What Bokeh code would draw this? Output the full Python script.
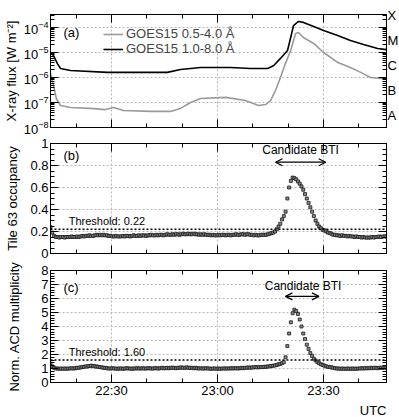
import math
from bokeh.plotting import figure
from bokeh.layouts import column
from bokeh.models import (Range1d, FixedTicker, LinearAxis, LogAxis, Span, Label,
                          Arrow, OpenHead, Title, CustomJSTickFormatter)
from bokeh.embed import file_html
from bokeh.resources import INLINE

FONT = "Liberation Sans"

# ---------------- data (time = minutes after 22:00 UTC) ----------------
time_ticks = [30, 60, 90]
time_tick_labels = ["22:30", "23:00", "23:30"]
time_minor = [20, 30, 40, 50, 60, 70, 80, 90, 100]

# GOES15 1.0-8.0 A (black)
goes_long_time = [12.7, 13.6, 14.7, 15.6, 18.4, 28.9, 38.2, 45.8, 49.5, 52.4,
                  55.2, 63.7, 69.3, 74.2, 75.9, 77.8, 79.8, 80.7, 81.5, 82.9,
                  84.3, 87.2, 90.0, 94.0, 97.6, 101.3, 105.3, 107.8]
goes_long_flux = [1.0e-5, 7.6e-6, 3.6e-6, 2.3e-6, 1.9e-6, 1.6e-6, 1.6e-6, 1.6e-6, 2.1e-6, 2.3e-6,
                  2.5e-6, 2.5e-6, 2.3e-6, 2.3e-6, 3.0e-6, 5.8e-6, 1.2e-5, 4.0e-5, 1.2e-4, 1.74e-4,
                  1.6e-4, 1.1e-4, 7.6e-5, 4.8e-5, 3.0e-5, 2.1e-5, 1.45e-5, 1.3e-5]

# GOES15 0.5-4.0 A (gray)
goes_short_time = [12.7, 13.6, 14.4, 15.6, 18.4, 24.1, 28.3, 30.6, 33.4, 41.0,
                   46.7, 49.5, 52.4, 55.2, 62.3, 67.9, 71.6, 73.6, 75.0, 76.4,
                   77.8, 79.2, 80.7, 81.5, 82.1, 82.9, 84.3, 87.2, 90.0, 94.0,
                   97.6, 100.5, 103.3, 106.1, 107.8]
goes_short_flux = [1.6e-6, 4.8e-7, 1.45e-7, 7.6e-8, 6.3e-8, 5.8e-8, 5.2e-8, 6.3e-8, 4.8e-8, 4.4e-8,
                   4.4e-8, 5.8e-8, 1.0e-7, 1.45e-7, 1.6e-7, 1.2e-7, 7.6e-8, 8.3e-8, 1.2e-7, 3.0e-7,
                   1.0e-6, 3.6e-6, 1.2e-5, 3.0e-5, 5.8e-5, 6.3e-5, 4.0e-5, 2.3e-5, 1.0e-5, 4.0e-6,
                   2.5e-6, 1.6e-6, 1.0e-6, 9.1e-7, 9.1e-7]

goes_classes = ["X", "M", "C", "B", "A"]

# sampled series, one sample every 30 s starting 22:12:45
sample_start, sample_step = 12.75, 0.5
tile63_occupancy = [
    0.24, 0.19, 0.16, 0.15, 0.15, 0.145, 0.15, 0.15, 0.145, 0.15,
    0.15, 0.15, 0.155, 0.15, 0.15, 0.155, 0.15, 0.155, 0.16, 0.155,
    0.16, 0.16, 0.165, 0.16, 0.16, 0.165, 0.17, 0.165, 0.17, 0.165,
    0.17, 0.165, 0.165, 0.16, 0.16, 0.155, 0.155, 0.16, 0.155, 0.155,
    0.155, 0.16, 0.155, 0.16, 0.16, 0.155, 0.16, 0.165, 0.16, 0.16,
    0.165, 0.16, 0.165, 0.165, 0.16, 0.165, 0.165, 0.17, 0.165, 0.165,
    0.17, 0.165, 0.17, 0.17, 0.165, 0.17, 0.175, 0.17, 0.17, 0.175,
    0.17, 0.175, 0.175, 0.17, 0.175, 0.18, 0.175, 0.175, 0.18, 0.175,
    0.175, 0.18, 0.175, 0.175, 0.17, 0.175, 0.17, 0.175, 0.17, 0.17,
    0.17, 0.165, 0.17, 0.165, 0.165, 0.17, 0.165, 0.17, 0.17, 0.165,
    0.17, 0.17, 0.165, 0.17, 0.17, 0.175, 0.17, 0.17, 0.175, 0.175,
    0.17, 0.175, 0.175, 0.17, 0.17, 0.165, 0.17, 0.165, 0.165, 0.17,
    0.17, 0.17, 0.17, 0.175, 0.18, 0.185, 0.19, 0.2, 0.22, 0.245,
    0.27, 0.31, 0.34, 0.38, 0.5, 0.6, 0.66, 0.69, 0.685, 0.675,
    0.655, 0.635, 0.61, 0.58, 0.54, 0.5, 0.46, 0.42, 0.38, 0.34,
    0.3, 0.27, 0.245, 0.23, 0.215, 0.21, 0.2, 0.19, 0.185, 0.18,
    0.17, 0.17, 0.165, 0.165, 0.16, 0.165, 0.16, 0.16, 0.155, 0.16,
    0.155, 0.155, 0.15, 0.155, 0.15, 0.15, 0.145, 0.15, 0.145, 0.145,
    0.145, 0.145, 0.15, 0.145, 0.15, 0.15, 0.155, 0.15, 0.155, 0.155,
    0.155]

acd_multiplicity = [
    1.35, 1.15, 1.05, 1.0, 1.0, 0.98, 1.0, 0.98, 1.0, 0.98,
    1.0, 1.0, 1.02, 1.0, 1.02, 1.05, 1.05, 1.08, 1.1, 1.12,
    1.15, 1.15, 1.18, 1.2, 1.18, 1.15, 1.15, 1.12, 1.1, 1.08,
    1.05, 1.05, 1.02, 1.0, 1.0, 1.02, 1.0, 1.0, 0.98, 1.0,
    1.0, 0.98, 1.0, 1.02, 1.0, 1.0, 0.98, 1.0, 1.0, 1.02,
    1.0, 1.0, 1.02, 1.0, 1.0, 1.02, 1.02, 1.0, 1.0, 1.02,
    1.02, 1.0, 1.02, 1.05, 1.02, 1.02, 1.05, 1.02, 1.05, 1.05,
    1.05, 1.02, 1.05, 1.05, 1.08, 1.05, 1.05, 1.08, 1.05, 1.05,
    1.05, 1.02, 1.05, 1.02, 1.0, 1.02, 1.0, 1.0, 1.02, 1.0,
    1.0, 0.98, 1.0, 1.0, 0.98, 1.0, 0.98, 1.0, 1.0, 1.0,
    1.0, 1.0, 1.02, 1.0, 1.02, 1.02, 1.0, 1.02, 1.05, 1.02,
    1.05, 1.05, 1.08, 1.05, 1.08, 1.08, 1.1, 1.08, 1.1, 1.1,
    1.1, 1.12, 1.12, 1.15, 1.15, 1.18, 1.2, 1.22, 1.25, 1.3,
    1.33, 1.38, 1.45, 1.8, 2.6, 3.5, 4.3, 4.95, 5.2, 5.1,
    4.9, 4.5, 4.0, 3.5, 3.1, 2.7, 2.4, 2.1, 1.9, 1.7,
    1.57, 1.45, 1.38, 1.3, 1.25, 1.2, 1.15, 1.12, 1.1, 1.08,
    1.05, 1.02, 1.0, 1.0, 0.98, 1.0, 0.98, 0.98, 1.0, 0.98,
    0.98, 1.0, 0.98, 0.98, 1.0, 1.0, 1.02, 1.0, 1.02, 1.02,
    1.02, 1.05, 1.02, 1.05, 1.05, 1.02, 1.05, 1.05, 1.05, 1.08,
    1.05]

sample_time = [sample_start + sample_step * i for i in range(len(tile63_occupancy))]
assert len(acd_multiplicity) == len(tile63_occupancy)

threshold_b = 0.22
threshold_c = 1.60
bti_b = (76.4, 90.6, 0.83)     # start, end, level
bti_c = (79.2, 88.7, 6.15)

# ---------------- layout constants ----------------
X_START, X_END = 12.75, 107.8
GRID_COLOR = "#b8b8b8"


def style_axis(ax, labels=True, major=7, minor=4, size="13px", standoff=3):
    ax.axis_line_color = "black"
    ax.axis_line_width = 1
    ax.major_tick_in = major
    ax.major_tick_out = 0
    ax.minor_tick_in = minor
    ax.minor_tick_out = 0
    ax.major_tick_line_color = "black"
    ax.minor_tick_line_color = "black"
    ax.major_label_text_font = FONT
    ax.major_label_text_color = "black"
    ax.major_label_text_font_size = size
    if labels:
        ax.major_label_standoff = standoff
    else:
        ax.formatter = CustomJSTickFormatter(code="return '';")
        ax.major_label_standoff = 0
    ax.axis_label_text_font = FONT
    ax.axis_label_text_font_style = "normal"
    ax.axis_label_text_font_size = "13px"
    ax.axis_label_text_color = "black"


def make_panel(frame_h, y_range, y_type, top, bottom, y_ticks, y_minor, grid_ticks,
               ylabel, label_standoff, show_x_labels, axis_cls):
    p = figure(frame_width=336, frame_height=frame_h,
               x_range=Range1d(X_START, X_END), y_range=y_range, y_axis_type=y_type,
               output_backend="svg", toolbar_location=None,
               min_border_left=50, min_border_right=13,
               min_border_top=top, min_border_bottom=bottom,
               background_fill_color="white", border_fill_color="white",
               outline_line_color="black", outline_line_width=1)
    # bottom axis
    xa = p.xaxis[0]
    xa.ticker = FixedTicker(ticks=time_ticks, minor_ticks=time_minor)
    style_axis(xa, labels=show_x_labels, major=8, minor=4, standoff=0)
    if show_x_labels:
        xa.major_label_overrides = {t: l for t, l in zip(time_ticks, time_tick_labels)}
    # left axis
    ya = p.yaxis[0]
    ya.ticker = FixedTicker(ticks=y_ticks, minor_ticks=y_minor)
    style_axis(ya, labels=True, major=8, minor=4, standoff=2)
    ya.axis_label = ylabel
    ya.axis_label_standoff = label_standoff
    # top axis (ticks only)
    top_ax = LinearAxis(ticker=FixedTicker(ticks=time_ticks, minor_ticks=time_minor))
    style_axis(top_ax, labels=False, major=8, minor=4)
    p.add_layout(top_ax, "above")
    # right axis (ticks only)
    right_ax = axis_cls(ticker=FixedTicker(ticks=y_ticks, minor_ticks=y_minor))
    style_axis(right_ax, labels=False, major=8, minor=4)
    p.add_layout(right_ax, "right")
    # grids
    p.xgrid.ticker = FixedTicker(ticks=time_ticks)
    p.ygrid.ticker = FixedTicker(ticks=grid_ticks)
    for g in (p.xgrid[0], p.ygrid[0]):
        g.grid_line_color = GRID_COLOR
        g.grid_line_dash = "2 2"
        g.grid_line_width = 1
    return p


# ---------------- panel (a) ----------------
decades = [10.0 ** e for e in range(-8, -3)]
a_top = 10 ** -3.48
a_minor = [k * 10.0 ** e for e in range(-8, -3) for k in range(1, 10) if k * 10.0 ** e <= a_top]
pa = make_panel(113, Range1d(1e-8, a_top), "log", 14, 9, decades, a_minor, decades,
                "X-ray flux [W m\u207b\u00b2]", 2, False, LogAxis)

pa.line(goes_short_time, goes_short_flux, line_color="#9a9a9a", line_width=1.6,
        legend_label="GOES15 0.5-4.0 \u00c5")
pa.line(goes_long_time, goes_long_flux, line_color="black", line_width=1.6,
        legend_label="GOES15 1.0-8.0 \u00c5")

class_positions = [10 ** (-3.5 - i) for i in range(len(goes_classes))]
letter_ax = LogAxis(ticker=FixedTicker(ticks=class_positions, minor_ticks=[]),
                    formatter=CustomJSTickFormatter(
                        args=dict(names=goes_classes),
                        code="const i = Math.round(-Math.log10(tick) - 3.5); return names[i] || '';"))
letter_ax.axis_line_alpha = 0
letter_ax.major_tick_in = 0
letter_ax.major_tick_out = 0
letter_ax.minor_tick_in = 0
letter_ax.minor_tick_out = 0
letter_ax.major_label_text_font = FONT
letter_ax.major_label_text_font_size = "13px"
letter_ax.major_label_text_color = "black"
letter_ax.major_label_standoff = 1
pa.add_layout(letter_ax, "right")

lg = pa.legend[0]
lg.location = (53, 71)
lg.border_line_alpha = 0
lg.background_fill_alpha = 0
lg.padding = 0
lg.margin = 0
lg.spacing = 0
lg.glyph_height = 12
lg.label_height = 12
lg.glyph_width = 20
lg.label_standoff = 3
lg.label_text_font = FONT
lg.label_text_font_size = "13px"

pa.add_layout(Label(x=16.4, y=6.3e-5, text="(a)", text_font=FONT, text_font_size="13px",
                    text_baseline="middle", text_color="black"))

# ---------------- panel (b) ----------------
b_minor = [round(0.05 * i, 2) for i in range(0, 21)]
pb = make_panel(110, Range1d(0, 1), "linear", 7, 8, [0, 0.2, 0.4, 0.6, 0.8, 1.0], b_minor,
                [0.2, 0.4, 0.6, 0.8], "Tile 63 occupancy", 7, False, LinearAxis)
pb.yaxis[0].major_label_overrides = {0: "0", 1: "1"}
pb.add_layout(Span(location=threshold_b, dimension="width", line_color="black",
                   line_dash="2 2", line_width=1.5))
pb.scatter(sample_time, tile63_occupancy, marker="square", size=3,
           line_color="#1a1a1a", fill_color="#8a8a8a", line_width=0.8)
pb.add_layout(Label(x=17.9, y=threshold_b, y_offset=2, text="Threshold: 0.22", text_font=FONT,
                    text_font_size="11px", text_baseline="bottom", text_color="black"))
pb.add_layout(Arrow(start=OpenHead(size=7, line_width=1.2), end=OpenHead(size=7, line_width=1.2),
                    x_start=bti_b[0], y_start=bti_b[2], x_end=bti_b[1], y_end=bti_b[2],
                    line_width=1.2, line_color="black"))
pb.add_layout(Label(x=(bti_b[0] + bti_b[1]) / 2, y=0.94, text="Candidate BTI", text_font=FONT,
                    text_font_size="12px", text_align="center", text_baseline="middle",
                    text_color="black"))
pb.add_layout(Label(x=16.4, y=0.89, text="(b)", text_font=FONT, text_font_size="13px",
                    text_baseline="middle", text_color="black"))

# ---------------- panel (c) ----------------
c_minor = [round(0.2 * i, 1) for i in range(0, 41)]
pc = make_panel(112, Range1d(0, 8), "linear", 9, 35, list(range(0, 9)), c_minor,
                list(range(1, 8)), "Norm. ACD multiplicity", 16, True, LinearAxis)
pc.add_layout(Span(location=threshold_c, dimension="width", line_color="black",
                   line_dash="2 2", line_width=1.5))
pc.scatter(sample_time, acd_multiplicity, marker="square", size=3,
           line_color="#1a1a1a", fill_color="#8a8a8a", line_width=0.8)
pc.add_layout(Label(x=17.9, y=threshold_c, y_offset=2, text="Threshold: 1.60", text_font=FONT,
                    text_font_size="11px", text_baseline="bottom", text_color="black"))
pc.add_layout(Arrow(start=OpenHead(size=7, line_width=1.2), end=OpenHead(size=7, line_width=1.2),
                    x_start=bti_c[0], y_start=bti_c[2], x_end=bti_c[1], y_end=bti_c[2],
                    line_width=1.2, line_color="black"))
pc.add_layout(Label(x=84.2, y=6.9, text="Candidate BTI", text_font=FONT,
                    text_font_size="12px", text_align="center", text_baseline="middle",
                    text_color="black"))
pc.add_layout(Label(x=16.4, y=6.8, text="(c)", text_font=FONT, text_font_size="13px",
                    text_baseline="middle", text_color="black"))
pc.add_layout(Title(text="UTC", align="right", text_font=FONT, text_font_size="13px",
                    text_font_style="normal", text_color="black", standoff=0), "below")

layout = column(pa, pb, pc, spacing=0)
open("out.html", "w").write(file_html(layout, INLINE))
